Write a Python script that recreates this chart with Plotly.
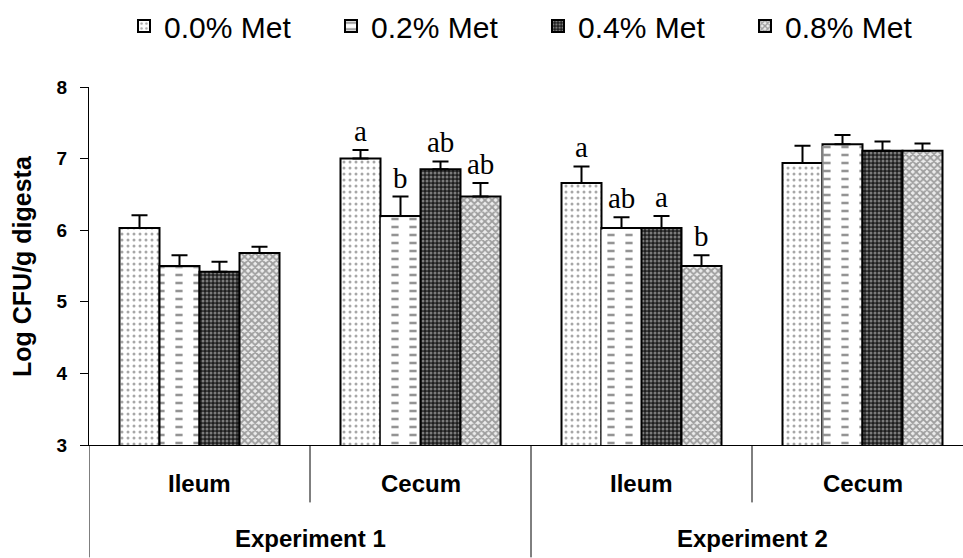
import plotly.graph_objects as go

# Methionine levels (one bar series each) and the four intestinal sections
series_names = ["0.0% Met", "0.2% Met", "0.4% Met", "0.8% Met"]
sections = ["Ileum", "Cecum", "Ileum", "Cecum"]
experiments = ["Experiment 1", "Experiment 2"]

# Mean log CFU/g digesta per section (rows follow sections, columns follow series)
met_00 = [6.03, 7.00, 6.66, 6.94]
met_02 = [5.50, 6.20, 6.03, 7.20]
met_04 = [5.42, 6.85, 6.03, 7.11]
met_08 = [5.68, 6.47, 5.50, 7.11]

# Standard errors (upper whiskers only)
se_00 = [0.18, 0.12, 0.23, 0.24]
se_02 = [0.15, 0.27, 0.15, 0.13]
se_04 = [0.14, 0.11, 0.17, 0.13]
se_08 = [0.09, 0.19, 0.15, 0.10]

# Significance letters per section, per series ("" = none)
letters = [
    ["", "", "", ""],
    ["a", "b", "ab", "ab"],
    ["a", "ab", "a", "b"],
    ["", "", "", ""],
]

means = [met_00, met_02, met_04, met_08]
errors = [se_00, se_02, se_04, se_08]

patterns = [
    dict(shape=".", fgcolor="#505050", bgcolor="white", size=6, solidity=0.2),
    dict(shape="-", fgcolor="#2a2a2a", bgcolor="white", size=8, solidity=0.32),
    dict(shape=".", fgcolor="#d8d8d8", bgcolor="#1e1e1e", size=4, solidity=0.45),
    dict(shape="x", fgcolor="#505050", bgcolor="#ececec", size=5, solidity=0.6),
]

BARGAP = 0.276
x_pos = list(range(len(sections)))

fig = go.Figure()
for k, name in enumerate(series_names):
    fig.add_trace(go.Bar(
        x=x_pos, y=means[k], name=name, offsetgroup=str(k),
        marker=dict(color="white", pattern=patterns[k],
                    line=dict(color="black", width=2)),
        error_y=dict(type="data", symmetric=False, array=errors[k],
                     arrayminus=[0] * len(x_pos), color="black",
                     thickness=2, width=8),
    ))
    if k == 1:
        # white vertical breaks cut the horizontal rules into dashes
        fig.add_trace(go.Bar(
            x=x_pos, y=[v - 0.02 for v in means[k]], offsetgroup=str(k),
            showlegend=False, hoverinfo="skip",
            marker=dict(color="rgba(255,255,255,0)",
                        line=dict(width=0),
                        pattern=dict(shape="|", fgcolor="white",
                                     bgcolor="rgba(255,255,255,0)", size=18,
                                     solidity=0.6, fillmode="replace")),
        ))

# Letters above the whiskers
bar_w = (1 - BARGAP) / len(series_names)
for g in range(len(sections)):
    for k in range(len(series_names)):
        if letters[g][k]:
            fig.add_annotation(
                x=g + (k - 1.5) * bar_w, y=means[k][g] + errors[k][g],
                xref="x", yref="y", text=letters[g][k], showarrow=False,
                yanchor="bottom", yshift=1,
                font=dict(family="Liberation Serif, Times New Roman", size=29,
                          color="black"),
            )

# Two-level category labels below the axis
plot_h = 558 - 87 - 112.5
inner_y = -(484 - 445.5) / plot_h
outer_y = -(539 - 445.5) / plot_h
inner_line = -(503 - 445.5) / plot_h
outer_line = -(558 - 445.5) / plot_h

lab_font = dict(family="Liberation Sans, Arial", size=24, color="black",
                weight="bold")
for g, sec in enumerate(sections):
    fig.add_annotation(x=g, y=inner_y, xref="x", yref="paper", text=sec,
                       xanchor="center", yanchor="middle",
                       showarrow=False, font=lab_font)
for e, exp in enumerate(experiments):
    fig.add_annotation(x=2 * e + 0.5, y=outer_y, xref="x", yref="paper",
                       text=exp, xanchor="center", yanchor="middle",
                       showarrow=False, font=lab_font)

for b in [0.5, 2.5]:
    fig.add_shape(type="line", xref="x", yref="paper", x0=b, x1=b,
                  y0=0, y1=inner_line, line=dict(color="black", width=1))
for b in [-0.5, 1.5]:
    fig.add_shape(type="line", xref="x", yref="paper", x0=b, x1=b,
                  y0=0, y1=outer_line, line=dict(color="black", width=1))

fig.add_annotation(x=-(89 - 22) / 874, y=0.5, xref="paper", yref="paper",
                   xanchor="center", yanchor="middle",
                   text="Log CFU/g digesta", textangle=-90, showarrow=False,
                   font=dict(family="Liberation Sans, Arial", size=25,
                             color="black", weight="bold"))

fig.update_layout(
    width=963, height=558,
    margin=dict(l=89, r=0, t=87, b=112.5),
    paper_bgcolor="white", plot_bgcolor="white",
    barmode="group", bargap=BARGAP, bargroupgap=0,
    showlegend=True,
    legend=dict(orientation="h", xref="container", yref="container",
                x=124 / 963, y=1.0, xanchor="left", yanchor="top",
                entrywidthmode="pixels", entrywidth=162,
                font=dict(family="Liberation Sans, Arial", size=30,
                          color="black"),
                traceorder="normal"),
    xaxis=dict(range=[-0.5, -0.5 + 874 / 221], showline=True,
               linecolor="black", linewidth=1, showgrid=False,
               zeroline=False, showticklabels=False, ticks=""),
    yaxis=dict(range=[3, 8], dtick=1, showline=True, linecolor="black",
               linewidth=1, showgrid=False, zeroline=False,
               ticks="outside", ticklen=8, tickcolor="black", tickwidth=1,
               ticklabelstandoff=9,
               tickfont=dict(family="Liberation Sans, Arial", size=19,
                             color="black", weight="bold")),
)

fig.write_html("out.html")
